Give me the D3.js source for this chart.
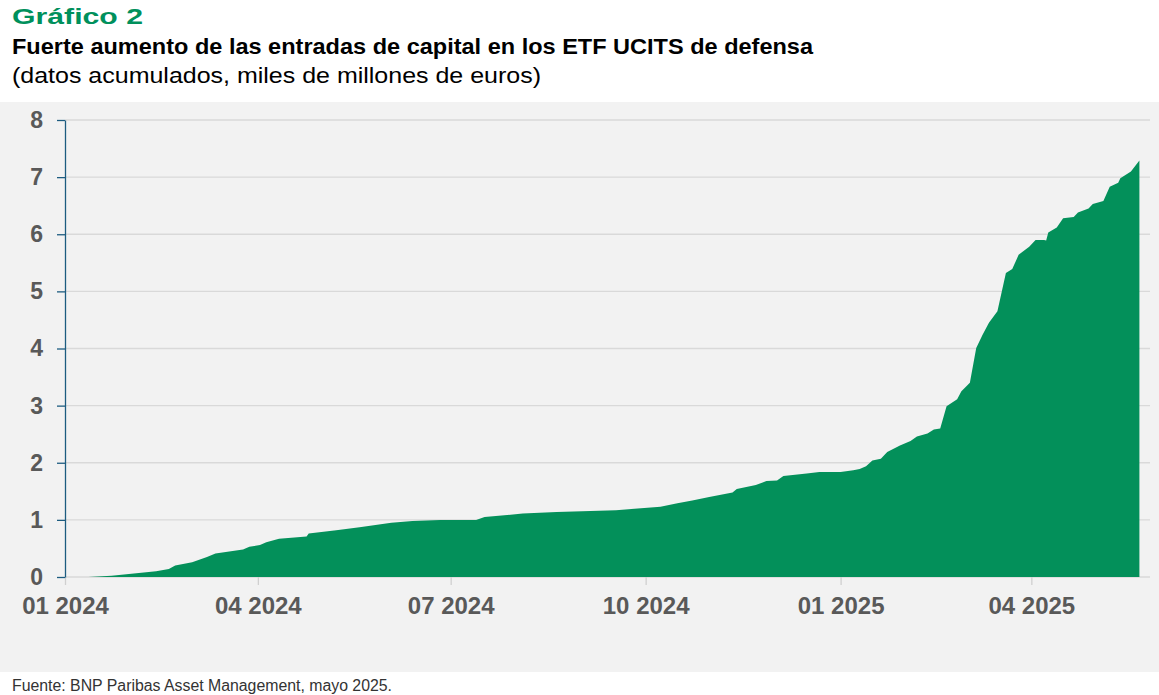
<!DOCTYPE html>
<html>
<head>
<meta charset="utf-8">
<script src="https://cdn.jsdelivr.net/npm/d3@7"></script>
<style>
  body { margin: 0; background: #fff; }
  svg { display: block; }
</style>
</head>
<body>
<div id="chart"></div>
<script>
// cumulative flows, bn EUR
var dates = [
  '2024-01-12', '2024-01-23', '2024-02-13', '2024-02-19', '2024-02-22', '2024-03-01',
  '2024-03-08', '2024-03-12', '2024-03-25', '2024-03-28', '2024-04-02', '2024-04-05',
  '2024-04-11', '2024-04-24', '2024-04-25', '2024-05-08', '2024-05-19', '2024-06-03',
  '2024-06-13', '2024-06-26', '2024-07-13', '2024-07-17', '2024-08-04', '2024-08-20',
  '2024-09-17', '2024-10-08', '2024-10-16', '2024-10-23', '2024-10-31', '2024-11-11',
  '2024-11-13', '2024-11-22', '2024-11-27', '2024-12-02', '2024-12-05', '2024-12-16',
  '2024-12-22', '2025-01-01', '2025-01-07', '2025-01-10', '2025-01-13', '2025-01-16',
  '2025-01-20', '2025-01-23', '2025-01-29', '2025-02-03', '2025-02-06', '2025-02-11',
  '2025-02-14', '2025-02-17', '2025-02-20', '2025-02-25', '2025-02-27', '2025-03-03',
  '2025-03-06', '2025-03-09', '2025-03-12', '2025-03-16', '2025-03-20', '2025-03-23',
  '2025-03-26', '2025-03-31', '2025-04-03', '2025-04-07', '2025-04-08', '2025-04-09',
  '2025-04-13', '2025-04-16', '2025-04-21', '2025-04-23', '2025-04-28', '2025-04-30',
  '2025-05-05', '2025-05-08', '2025-05-12', '2025-05-13', '2025-05-18', '2025-05-22'
];
var values = [
  0.00, 0.02, 0.10, 0.14, 0.20, 0.26,
  0.35, 0.41, 0.48, 0.53, 0.56, 0.61,
  0.67, 0.71, 0.76, 0.82, 0.87, 0.95,
  0.98, 1.00, 1.00, 1.05, 1.11, 1.14,
  1.17, 1.23, 1.29, 1.34, 1.40, 1.48,
  1.54, 1.61, 1.68, 1.69, 1.77, 1.81,
  1.84, 1.84, 1.87, 1.89, 1.94, 2.04,
  2.07, 2.19, 2.30, 2.38, 2.46, 2.51,
  2.58, 2.60, 2.99, 3.11, 3.25, 3.40,
  4.01, 4.24, 4.45, 4.65, 5.32, 5.39,
  5.64, 5.78, 5.90, 5.90, 5.89, 6.03,
  6.12, 6.28, 6.30, 6.38, 6.45, 6.53,
  6.58, 6.83, 6.90, 6.98, 7.10, 7.29
];
var yTicks = [0, 1, 2, 3, 4, 5, 6, 7, 8];
var xTicks = ['2024-01-01', '2024-04-01', '2024-07-01', '2024-10-01', '2025-01-01', '2025-04-01'];

var parse = d3.timeParse('%Y-%m-%d');
var data = dates.map(function(d, i) {
    return { date: parse(d), value: values[i] };
});

var W = 1159, H = 695;

var svg = d3.select('#chart').append('svg')
    .attr('width', W)
    .attr('height', H);

// titles
svg.append('text')
    .attr('x', 12).attr('y', 24)
    .attr('font-family', 'Liberation Sans, Arial, sans-serif')
    .attr('font-weight', 'bold')
    .attr('font-size', 22)
    .attr('fill', '#00905c')
    .attr('textLength', 131)
    .attr('lengthAdjust', 'spacingAndGlyphs')
    .text('Gráfico 2');

svg.append('text')
    .attr('x', 12).attr('y', 54)
    .attr('font-family', 'Liberation Sans, Arial, sans-serif')
    .attr('font-weight', 'bold')
    .attr('font-size', 22)
    .attr('fill', '#000')
    .attr('textLength', 801)
    .attr('lengthAdjust', 'spacingAndGlyphs')
    .text('Fuerte aumento de las entradas de capital en los ETF UCITS de defensa');

svg.append('text')
    .attr('x', 12).attr('y', 83)
    .attr('font-family', 'Liberation Sans, Arial, sans-serif')
    .attr('font-size', 22)
    .attr('fill', '#000')
    .attr('textLength', 529)
    .attr('lengthAdjust', 'spacingAndGlyphs')
    .text('(datos acumulados, miles de millones de euros)');

// plot panel
svg.append('rect')
    .attr('x', 0).attr('y', 102)
    .attr('width', W).attr('height', 570)
    .attr('fill', '#f2f2f2');

var x = d3.scaleTime()
    .domain([parse('2024-01-01'), parse('2025-05-27')])
    .range([65, 1150]);

var y = d3.scaleLinear()
    .domain([0, 8])
    .range([577, 120]);

// grid
svg.append('g')
    .selectAll('line')
    .data(yTicks)
    .enter()
    .append('line')
    .attr('x1', 65).attr('x2', 1150)
    .attr('y1', function(d) { return y(d); })
    .attr('y2', function(d) { return y(d); })
    .attr('stroke', '#d9d9d9')
    .attr('stroke-width', 1.3);

var area = d3.area()
    .x(function(d) { return x(d.date); })
    .y0(y(0))
    .y1(function(d) { return y(d.value); });

svg.append('path')
    .datum(data)
    .attr('d', area)
    .attr('fill', '#03905a');

// x axis
var xAxis = svg.append('g')
    .attr('transform', 'translate(0,' + y(0) + ')')
    .call(d3.axisBottom(x)
        .tickValues(xTicks.map(parse))
        .tickFormat(d3.timeFormat('%m %Y'))
        .tickSizeInner(8)
        .tickSizeOuter(0)
        .tickPadding(12));

xAxis.select('.domain').remove();
xAxis.selectAll('.tick line').attr('stroke', '#d0d0d0').attr('stroke-width', 1.3);
xAxis.selectAll('.tick text')
    .attr('font-family', 'Liberation Sans, Arial, sans-serif')
    .attr('font-weight', 'bold')
    .attr('font-size', 24)
    .attr('fill', '#595959');

// y axis
var yAxis = svg.append('g')
    .attr('transform', 'translate(65,0)')
    .call(d3.axisLeft(y)
        .tickValues(yTicks)
        .tickFormat(d3.format('d'))
        .tickSizeInner(8)
        .tickSizeOuter(0)
        .tickPadding(14));

yAxis.select('.domain').attr('stroke', '#1d5c80').attr('stroke-width', 1.3);
yAxis.selectAll('.tick line').attr('stroke', '#1d5c80').attr('stroke-width', 1.3);
yAxis.selectAll('.tick text')
    .attr('font-family', 'Liberation Sans, Arial, sans-serif')
    .attr('font-weight', 'bold')
    .attr('font-size', 23)
    .attr('fill', '#595959');

// source
svg.append('text')
    .attr('x', 12).attr('y', 691)
    .attr('font-family', 'Liberation Sans, Arial, sans-serif')
    .attr('font-size', 16)
    .attr('fill', '#333')
    .attr('textLength', 380)
    .attr('lengthAdjust', 'spacingAndGlyphs')
    .text('Fuente: BNP Paribas Asset Management, mayo 2025.');
</script>
</body>
</html>
